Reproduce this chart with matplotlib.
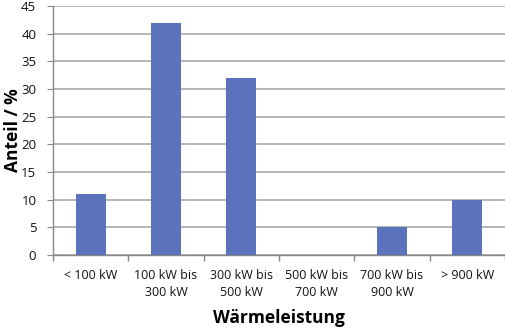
import matplotlib
matplotlib.use("Agg")
import matplotlib.pyplot as plt
import numpy as np

categories = ["< 100 kW", "100 kW bis\n300 kW", "300 kW bis\n500 kW",
              "500 kW bis\n700 kW", "700 kW bis\n900 kW", "> 900 kW"]
anteil = [11, 42, 32, 0, 5, 10]
yticks = [0, 5, 10, 15, 20, 25, 30, 35, 40, 45]

plt.rcParams['font.family'] = ['Open Sans', 'DejaVu Sans']

fig = plt.figure(figsize=(5.06, 3.28), dpi=100)
ax = fig.add_axes([0.1047, 0.2226, 0.8933, 0.7591])

x = np.arange(len(categories))
ax.bar(x, anteil, width=0.4, color="#5b73bd", zorder=3)

ax.set_xlim(-0.5, len(categories) - 0.5)
ax.set_ylim(0, 45)
ax.set_yticks(yticks)
ax.set_xticks(np.arange(len(categories) + 1) - 0.5, minor=False)
ax.set_xticklabels([])
ax.set_xticks(x, minor=True)
ax.set_xticklabels(categories, minor=True, fontsize=9, color="#111111",
                   linespacing=1.45)
ax.tick_params(axis="x", which="minor", length=0, pad=10)
ax.tick_params(axis="x", which="major", length=4, color="#888888", width=1)
ax.tick_params(axis="y", length=4, color="#888888", labelsize=9.5,
               labelcolor="#111111", pad=8)

ax.grid(axis="y", color="#b0b0b0", linewidth=1.3, zorder=0)
for s in ["top", "right"]:
    ax.spines[s].set_visible(False)
for s in ["left", "bottom"]:
    ax.spines[s].set_color("#888888")
    ax.spines[s].set_linewidth(1)

ax.set_ylabel("Anteil / %", fontsize=12.5, fontweight="bold")
ax.yaxis.set_label_coords(-0.068, 0.5)
ax.set_xlabel("Wärmeleistung", fontsize=12.5, fontweight="bold")
ax.xaxis.set_label_coords(0.5, -0.215)

fig.savefig("out.png", dpi=100)
